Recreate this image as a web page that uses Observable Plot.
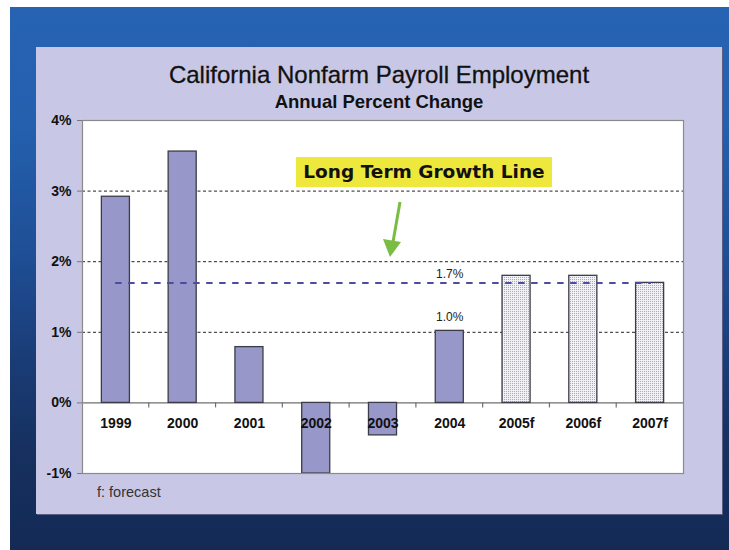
<!DOCTYPE html>
<html>
<head>
<meta charset="utf-8">
<script src="https://cdn.jsdelivr.net/npm/d3@7"></script>
<script src="https://cdn.jsdelivr.net/npm/@observablehq/plot@0.6"></script>
<style>
  html, body { margin: 0; padding: 0; }
  body { width: 729px; height: 550px; background: #ffffff; overflow: hidden; position: relative; font-family: "Liberation Sans", Arial, sans-serif; }
  #bg { position: absolute; left: 10px; top: 7px; width: 719px; height: 543px;
        background: linear-gradient(180deg, #2763b3 0%, #2460ae 22%, #1f4f96 45%, #1a3c76 65%, #16305f 82%, #142a55 100%); }
  #panel { position: absolute; left: 36px; top: 47px; width: 686px; height: 467px; background: #c8c8e6;
           box-shadow: 1px 1px 0 #5a5e84; }
  #title { position: absolute; left: 0; width: 686px; top: 15px; text-align: center; font-size: 24px; line-height: 26px; color: #111; -webkit-text-stroke: 0.3px #111; }
  #subtitle { position: absolute; left: 0; width: 686px; top: 44px; text-align: center; font-size: 18.5px; font-weight: bold; line-height: 21px; color: #111; }
  #chart { position: absolute; left: 0; top: 0; }
  #note { position: absolute; left: 61px; top: 437px; font-size: 14.5px; color: #333; line-height: 17px; }
  #callout { position: absolute; left: 296px; top: 157px; width: 256px; height: 30px; background: #eee83c;
             font-family: "DejaVu Sans", Verdana, sans-serif; font-weight: bold; font-size: 18.5px; line-height: 30px; text-align: center; color: #111; }
  #arrow { position: absolute; left: 0; top: 0; }
</style>
</head>
<body>
<div id="bg"></div>
<div id="panel">
  <div id="chart"></div>
  <div id="title">California Nonfarm Payroll Employment</div>
  <div id="subtitle">Annual Percent Change</div>
  <div id="note">f: forecast</div>
</div>
<div id="callout">Long Term Growth Line</div>
<svg id="arrow" width="729" height="550">
  <line x1="400" y1="202" x2="393" y2="242" stroke="#79bd45" stroke-width="3"></line>
  <polygon points="383,239 401,242 390,257" fill="#79bd45"></polygon>
</svg>
<script>
// ---- data ----
const years = ["1999", "2000", "2001", "2002", "2003", "2004", "2005f", "2006f", "2007f"];
const changes = [2.92, 3.56, 0.79, -1.0, -0.46, 1.02, 1.8, 1.8, 1.7];
const isForecast = [false, false, false, false, false, false, true, true, true];
const longTermGrowth = 1.7;
const yTicks = [-1, 0, 1, 2, 3, 4];
const gridLines = [1, 2, 3];
const labelYears = ["2004", "2004"];
const labelValues = [1.0, 1.7];
const labelTexts = ["1.0%", "1.7%"];

const data = years.map((y, i) => ({year: y, value: changes[i], forecast: isForecast[i]}));
const actual = data.filter(d => !d.forecast);
const forecast = data.filter(d => d.forecast);
const growthLine = [{year: years[0], value: longTermGrowth}, {year: years[years.length - 1], value: longTermGrowth}];
const barLabel = [{year: labelYears[0], value: labelValues[0], text: labelTexts[0]}];
const lineLabel = [{year: labelYears[1], value: labelValues[1], text: labelTexts[1]}];

const plot = Plot.plot({
  width: 686,
  height: 467,
  marginLeft: 46,
  marginRight: 39,
  marginTop: 73,
  marginBottom: 41,
  style: {background: "transparent", fontFamily: "'Liberation Sans', Arial, sans-serif", fontSize: "13px", color: "#111", overflow: "visible"},
  x: {domain: years, paddingInner: 0.58, paddingOuter: 0.29, round: false, axis: null},
  y: {domain: [-1, 4], axis: null},
  marks: [
    Plot.frame({fill: "white", stroke: "none"}),
    Plot.ruleY(gridLines, {stroke: "#222", strokeWidth: 1, strokeDasharray: "3,2.5"}),
    Plot.ruleY([0], {stroke: "#6f6f6f", strokeWidth: 1.2}),
    Plot.barY(actual, {x: "year", y: "value", fill: "#9797c9", stroke: "#3c3c48", strokeWidth: 1.3}),
    Plot.barY(forecast, {x: "year", y: "value", fill: "url(#dots)", stroke: "#3c3c48", strokeWidth: 1.3}),
    Plot.line(growthLine, {x: "year", y: "value", stroke: "#4d4da0", strokeWidth: 2, strokeDasharray: "5,8"}),
    Plot.text(years, {x: d => d, y: d => 0, dy: 21, fontWeight: "bold", fontSize: 14, fill: "#111"}),
    Plot.text(barLabel, {x: "year", y: "value", text: "text", dy: -15, fontSize: 12, fill: "#222"}),
    Plot.text(lineLabel, {x: "year", y: "value", text: "text", dy: -9, fontSize: 12, fill: "#222"}),
    Plot.axisY({ticks: yTicks, tickFormat: d => d + "%", label: null, tickSize: 5, tickPadding: 6, fontWeight: "bold", fontSize: 14, color: "#111", stroke: "#777"}),
    Plot.frame({stroke: "#8a8a8a", strokeWidth: 1.2})
  ]
});

// pattern for the forecast bars
const svg = d3.select(plot);
const defs = svg.insert("defs", ":first-child");
const pat = defs.append("pattern").attr("id", "dots").attr("patternUnits", "userSpaceOnUse").attr("width", 2).attr("height", 2);
pat.append("rect").attr("width", 2).attr("height", 2).attr("fill", "#f2f2f6");
pat.append("rect").attr("width", 1).attr("height", 1).attr("fill", "#a9a9b8");

// category boundary ticks on the zero line
const xs = plot.scale("x");
const ys = plot.scale("y");
const step = xs.step != null ? xs.step : (xs.range[1] - xs.range[0]) / years.length;
const bw = xs.bandwidth;
const g = svg.append("g").attr("stroke", "#6f6f6f").attr("stroke-width", 1.2);
for (let i = 1; i < years.length; i++) {
  const xb = xs.apply(years[i]) - (step - bw) / 2;
  const y0 = ys.apply(0);
  g.append("line").attr("x1", xb).attr("x2", xb).attr("y1", y0).attr("y2", y0 + 5);
}

document.getElementById("chart").appendChild(plot);
</script>
</body>
</html>
